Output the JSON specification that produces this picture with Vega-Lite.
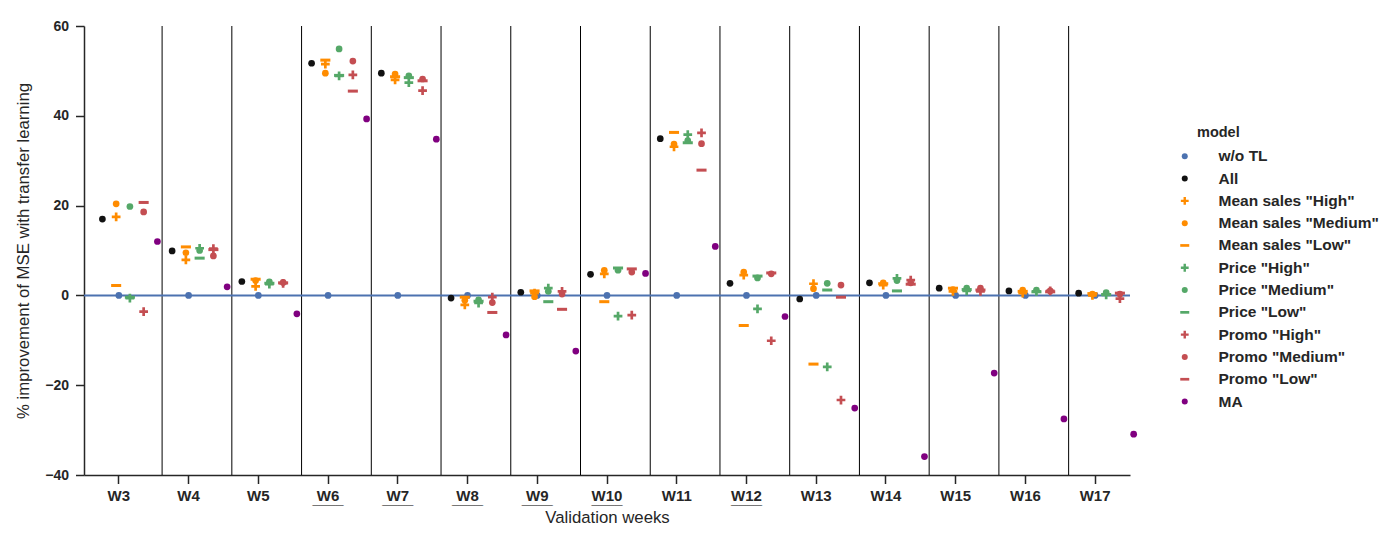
{
  "$schema": "https://vega.github.io/schema/vega-lite/v6.json",
  "width": 1046,
  "height": 449,
  "autosize": "none",
  "padding": {"left": 84, "top": 26, "right": 266, "bottom": 61},
  "background": "white",
  "config": {
    "view": {"stroke": null},
    "font": "Liberation Sans",
    "axis": {
      "grid": false,
      "domainColor": "#262626",
      "domainWidth": 1.5,
      "tickColor": "#262626",
      "tickWidth": 1.5,
      "tickSize": 8.5,
      "labelColor": "#262626",
      "labelFont": "Liberation Sans",
      "labelFontWeight": "bold",
      "titleColor": "#262626",
      "titleFont": "Liberation Sans",
      "titleFontSize": 16.75,
      "titleFontWeight": "normal"
    }
  },
  "datasets": {
    "weeks": [
      {"week": "W3"}, {"week": "W4"}, {"week": "W5"}, {"week": "W6"}, {"week": "W7"},
      {"week": "W8"}, {"week": "W9"}, {"week": "W10"}, {"week": "W11"}, {"week": "W12"},
      {"week": "W13"}, {"week": "W14"}, {"week": "W15"}, {"week": "W16"}
    ],
    "highlighted": [
      {"week": "W6"}, {"week": "W7"}, {"week": "W8"}, {"week": "W9"}, {"week": "W10"}, {"week": "W12"}
    ],
    "scores": [
      {"week": "W3", "model": "w/o TL", "feature": "none", "value": 0},
      {"week": "W3", "model": "All", "feature": "All", "value": 17.0},
      {"week": "W3", "model": "Mean sales \"High\"", "feature": "Mean sales", "value": 17.5},
      {"week": "W3", "model": "Mean sales \"Medium\"", "feature": "Mean sales", "value": 20.4},
      {"week": "W3", "model": "Mean sales \"Low\"", "feature": "Mean sales", "value": 2.2},
      {"week": "W3", "model": "Price \"High\"", "feature": "Price", "value": -0.6},
      {"week": "W3", "model": "Price \"Medium\"", "feature": "Price", "value": 19.8},
      {"week": "W3", "model": "Price \"Low\"", "feature": "Price", "value": -0.4},
      {"week": "W3", "model": "Promo \"High\"", "feature": "Promo", "value": -3.6},
      {"week": "W3", "model": "Promo \"Medium\"", "feature": "Promo", "value": 18.6},
      {"week": "W3", "model": "Promo \"Low\"", "feature": "Promo", "value": 20.7},
      {"week": "W3", "model": "MA", "feature": "MA", "value": 12.0},

      {"week": "W4", "model": "w/o TL", "feature": "none", "value": 0},
      {"week": "W4", "model": "All", "feature": "All", "value": 9.9},
      {"week": "W4", "model": "Mean sales \"High\"", "feature": "Mean sales", "value": 7.9},
      {"week": "W4", "model": "Mean sales \"Medium\"", "feature": "Mean sales", "value": 9.5},
      {"week": "W4", "model": "Mean sales \"Low\"", "feature": "Mean sales", "value": 10.8},
      {"week": "W4", "model": "Price \"High\"", "feature": "Price", "value": 10.5},
      {"week": "W4", "model": "Price \"Medium\"", "feature": "Price", "value": 10.0},
      {"week": "W4", "model": "Price \"Low\"", "feature": "Price", "value": 8.3},
      {"week": "W4", "model": "Promo \"High\"", "feature": "Promo", "value": 10.4},
      {"week": "W4", "model": "Promo \"Medium\"", "feature": "Promo", "value": 8.8},
      {"week": "W4", "model": "Promo \"Low\"", "feature": "Promo", "value": 10.2},
      {"week": "W4", "model": "MA", "feature": "MA", "value": 1.9},

      {"week": "W5", "model": "w/o TL", "feature": "none", "value": 0},
      {"week": "W5", "model": "All", "feature": "All", "value": 3.1},
      {"week": "W5", "model": "Mean sales \"High\"", "feature": "Mean sales", "value": 2.0},
      {"week": "W5", "model": "Mean sales \"Medium\"", "feature": "Mean sales", "value": 3.3},
      {"week": "W5", "model": "Mean sales \"Low\"", "feature": "Mean sales", "value": 3.6},
      {"week": "W5", "model": "Price \"High\"", "feature": "Price", "value": 2.5},
      {"week": "W5", "model": "Price \"Medium\"", "feature": "Price", "value": 3.0},
      {"week": "W5", "model": "Price \"Low\"", "feature": "Price", "value": 2.7},
      {"week": "W5", "model": "Promo \"High\"", "feature": "Promo", "value": 2.7},
      {"week": "W5", "model": "Promo \"Medium\"", "feature": "Promo", "value": 2.9},
      {"week": "W5", "model": "Promo \"Low\"", "feature": "Promo", "value": 2.8},
      {"week": "W5", "model": "MA", "feature": "MA", "value": -4.1},

      {"week": "W6", "model": "w/o TL", "feature": "none", "value": 0},
      {"week": "W6", "model": "All", "feature": "All", "value": 51.7},
      {"week": "W6", "model": "Mean sales \"High\"", "feature": "Mean sales", "value": 51.5},
      {"week": "W6", "model": "Mean sales \"Medium\"", "feature": "Mean sales", "value": 49.5},
      {"week": "W6", "model": "Mean sales \"Low\"", "feature": "Mean sales", "value": 52.4},
      {"week": "W6", "model": "Price \"High\"", "feature": "Price", "value": 48.9},
      {"week": "W6", "model": "Price \"Medium\"", "feature": "Price", "value": 54.9},
      {"week": "W6", "model": "Price \"Low\"", "feature": "Price", "value": 49.0},
      {"week": "W6", "model": "Promo \"High\"", "feature": "Promo", "value": 49.1},
      {"week": "W6", "model": "Promo \"Medium\"", "feature": "Promo", "value": 52.2},
      {"week": "W6", "model": "Promo \"Low\"", "feature": "Promo", "value": 45.5},
      {"week": "W6", "model": "MA", "feature": "MA", "value": 39.3},

      {"week": "W7", "model": "w/o TL", "feature": "none", "value": 0},
      {"week": "W7", "model": "All", "feature": "All", "value": 49.5},
      {"week": "W7", "model": "Mean sales \"High\"", "feature": "Mean sales", "value": 48.0},
      {"week": "W7", "model": "Mean sales \"Medium\"", "feature": "Mean sales", "value": 49.3},
      {"week": "W7", "model": "Mean sales \"Low\"", "feature": "Mean sales", "value": 48.7},
      {"week": "W7", "model": "Price \"High\"", "feature": "Price", "value": 47.4},
      {"week": "W7", "model": "Price \"Medium\"", "feature": "Price", "value": 48.9},
      {"week": "W7", "model": "Price \"Low\"", "feature": "Price", "value": 48.5},
      {"week": "W7", "model": "Promo \"High\"", "feature": "Promo", "value": 45.6},
      {"week": "W7", "model": "Promo \"Medium\"", "feature": "Promo", "value": 48.2},
      {"week": "W7", "model": "Promo \"Low\"", "feature": "Promo", "value": 47.8},
      {"week": "W7", "model": "MA", "feature": "MA", "value": 34.8},

      {"week": "W8", "model": "w/o TL", "feature": "none", "value": 0},
      {"week": "W8", "model": "All", "feature": "All", "value": -0.6},
      {"week": "W8", "model": "Mean sales \"High\"", "feature": "Mean sales", "value": -2.1},
      {"week": "W8", "model": "Mean sales \"Medium\"", "feature": "Mean sales", "value": -1.1},
      {"week": "W8", "model": "Mean sales \"Low\"", "feature": "Mean sales", "value": -0.4},
      {"week": "W8", "model": "Price \"High\"", "feature": "Price", "value": -1.7},
      {"week": "W8", "model": "Price \"Medium\"", "feature": "Price", "value": -1.0},
      {"week": "W8", "model": "Price \"Low\"", "feature": "Price", "value": -1.3},
      {"week": "W8", "model": "Promo \"High\"", "feature": "Promo", "value": -0.4},
      {"week": "W8", "model": "Promo \"Medium\"", "feature": "Promo", "value": -1.6},
      {"week": "W8", "model": "Promo \"Low\"", "feature": "Promo", "value": -3.8},
      {"week": "W8", "model": "MA", "feature": "MA", "value": -8.8},

      {"week": "W9", "model": "w/o TL", "feature": "none", "value": 0},
      {"week": "W9", "model": "All", "feature": "All", "value": 0.7},
      {"week": "W9", "model": "Mean sales \"High\"", "feature": "Mean sales", "value": 0.5},
      {"week": "W9", "model": "Mean sales \"Medium\"", "feature": "Mean sales", "value": -0.3},
      {"week": "W9", "model": "Mean sales \"Low\"", "feature": "Mean sales", "value": 1.0},
      {"week": "W9", "model": "Price \"High\"", "feature": "Price", "value": 1.6},
      {"week": "W9", "model": "Price \"Medium\"", "feature": "Price", "value": 0.9},
      {"week": "W9", "model": "Price \"Low\"", "feature": "Price", "value": -1.4},
      {"week": "W9", "model": "Promo \"High\"", "feature": "Promo", "value": 0.9},
      {"week": "W9", "model": "Promo \"Medium\"", "feature": "Promo", "value": 0.3},
      {"week": "W9", "model": "Promo \"Low\"", "feature": "Promo", "value": -3.1},
      {"week": "W9", "model": "MA", "feature": "MA", "value": -12.4},

      {"week": "W10", "model": "w/o TL", "feature": "none", "value": 0},
      {"week": "W10", "model": "All", "feature": "All", "value": 4.7},
      {"week": "W10", "model": "Mean sales \"High\"", "feature": "Mean sales", "value": 4.8},
      {"week": "W10", "model": "Mean sales \"Medium\"", "feature": "Mean sales", "value": 5.6},
      {"week": "W10", "model": "Mean sales \"Low\"", "feature": "Mean sales", "value": -1.4},
      {"week": "W10", "model": "Price \"High\"", "feature": "Price", "value": -4.6},
      {"week": "W10", "model": "Price \"Medium\"", "feature": "Price", "value": 5.6},
      {"week": "W10", "model": "Price \"Low\"", "feature": "Price", "value": 6.1},
      {"week": "W10", "model": "Promo \"High\"", "feature": "Promo", "value": -4.4},
      {"week": "W10", "model": "Promo \"Medium\"", "feature": "Promo", "value": 5.2},
      {"week": "W10", "model": "Promo \"Low\"", "feature": "Promo", "value": 5.9},
      {"week": "W10", "model": "MA", "feature": "MA", "value": 4.9},

      {"week": "W11", "model": "w/o TL", "feature": "none", "value": 0},
      {"week": "W11", "model": "All", "feature": "All", "value": 34.9},
      {"week": "W11", "model": "Mean sales \"High\"", "feature": "Mean sales", "value": 33.1},
      {"week": "W11", "model": "Mean sales \"Medium\"", "feature": "Mean sales", "value": 33.7},
      {"week": "W11", "model": "Mean sales \"Low\"", "feature": "Mean sales", "value": 36.3},
      {"week": "W11", "model": "Price \"High\"", "feature": "Price", "value": 35.8},
      {"week": "W11", "model": "Price \"Medium\"", "feature": "Price", "value": 34.5},
      {"week": "W11", "model": "Price \"Low\"", "feature": "Price", "value": 34.0},
      {"week": "W11", "model": "Promo \"High\"", "feature": "Promo", "value": 36.2},
      {"week": "W11", "model": "Promo \"Medium\"", "feature": "Promo", "value": 33.8},
      {"week": "W11", "model": "Promo \"Low\"", "feature": "Promo", "value": 27.9},
      {"week": "W11", "model": "MA", "feature": "MA", "value": 10.9},

      {"week": "W12", "model": "w/o TL", "feature": "none", "value": 0},
      {"week": "W12", "model": "All", "feature": "All", "value": 2.7},
      {"week": "W12", "model": "Mean sales \"High\"", "feature": "Mean sales", "value": 4.5},
      {"week": "W12", "model": "Mean sales \"Medium\"", "feature": "Mean sales", "value": 5.2},
      {"week": "W12", "model": "Mean sales \"Low\"", "feature": "Mean sales", "value": -6.7},
      {"week": "W12", "model": "Price \"High\"", "feature": "Price", "value": -3.0},
      {"week": "W12", "model": "Price \"Medium\"", "feature": "Price", "value": 3.9},
      {"week": "W12", "model": "Price \"Low\"", "feature": "Price", "value": 4.3},
      {"week": "W12", "model": "Promo \"High\"", "feature": "Promo", "value": -10.1},
      {"week": "W12", "model": "Promo \"Medium\"", "feature": "Promo", "value": 4.8},
      {"week": "W12", "model": "Promo \"Low\"", "feature": "Promo", "value": 5.0},
      {"week": "W12", "model": "MA", "feature": "MA", "value": -4.7},

      {"week": "W13", "model": "w/o TL", "feature": "none", "value": 0},
      {"week": "W13", "model": "All", "feature": "All", "value": -0.8},
      {"week": "W13", "model": "Mean sales \"High\"", "feature": "Mean sales", "value": 2.6},
      {"week": "W13", "model": "Mean sales \"Medium\"", "feature": "Mean sales", "value": 1.5},
      {"week": "W13", "model": "Mean sales \"Low\"", "feature": "Mean sales", "value": -15.3},
      {"week": "W13", "model": "Price \"High\"", "feature": "Price", "value": -15.9},
      {"week": "W13", "model": "Price \"Medium\"", "feature": "Price", "value": 2.7},
      {"week": "W13", "model": "Price \"Low\"", "feature": "Price", "value": 1.2},
      {"week": "W13", "model": "Promo \"High\"", "feature": "Promo", "value": -23.3},
      {"week": "W13", "model": "Promo \"Medium\"", "feature": "Promo", "value": 2.3},
      {"week": "W13", "model": "Promo \"Low\"", "feature": "Promo", "value": -0.4},
      {"week": "W13", "model": "MA", "feature": "MA", "value": -25.1},

      {"week": "W14", "model": "w/o TL", "feature": "none", "value": 0},
      {"week": "W14", "model": "All", "feature": "All", "value": 2.8},
      {"week": "W14", "model": "Mean sales \"High\"", "feature": "Mean sales", "value": 2.3},
      {"week": "W14", "model": "Mean sales \"Medium\"", "feature": "Mean sales", "value": 2.8},
      {"week": "W14", "model": "Mean sales \"Low\"", "feature": "Mean sales", "value": 2.6},
      {"week": "W14", "model": "Price \"High\"", "feature": "Price", "value": 3.8},
      {"week": "W14", "model": "Price \"Medium\"", "feature": "Price", "value": 3.3},
      {"week": "W14", "model": "Price \"Low\"", "feature": "Price", "value": 1.0},
      {"week": "W14", "model": "Promo \"High\"", "feature": "Promo", "value": 3.4},
      {"week": "W14", "model": "Promo \"Medium\"", "feature": "Promo", "value": 2.8},
      {"week": "W14", "model": "Promo \"Low\"", "feature": "Promo", "value": 2.5},
      {"week": "W14", "model": "MA", "feature": "MA", "value": -35.9},

      {"week": "W15", "model": "w/o TL", "feature": "none", "value": 0},
      {"week": "W15", "model": "All", "feature": "All", "value": 1.6},
      {"week": "W15", "model": "Mean sales \"High\"", "feature": "Mean sales", "value": 0.9},
      {"week": "W15", "model": "Mean sales \"Medium\"", "feature": "Mean sales", "value": 1.3},
      {"week": "W15", "model": "Mean sales \"Low\"", "feature": "Mean sales", "value": 1.6},
      {"week": "W15", "model": "Price \"High\"", "feature": "Price", "value": 1.0},
      {"week": "W15", "model": "Price \"Medium\"", "feature": "Price", "value": 1.6},
      {"week": "W15", "model": "Price \"Low\"", "feature": "Price", "value": 1.3},
      {"week": "W15", "model": "Promo \"High\"", "feature": "Promo", "value": 0.9},
      {"week": "W15", "model": "Promo \"Medium\"", "feature": "Promo", "value": 1.6},
      {"week": "W15", "model": "Promo \"Low\"", "feature": "Promo", "value": 1.2},
      {"week": "W15", "model": "MA", "feature": "MA", "value": -17.3},

      {"week": "W16", "model": "w/o TL", "feature": "none", "value": 0},
      {"week": "W16", "model": "All", "feature": "All", "value": 1.0},
      {"week": "W16", "model": "Mean sales \"High\"", "feature": "Mean sales", "value": 0.5},
      {"week": "W16", "model": "Mean sales \"Medium\"", "feature": "Mean sales", "value": 1.2},
      {"week": "W16", "model": "Mean sales \"Low\"", "feature": "Mean sales", "value": 0.9},
      {"week": "W16", "model": "Price \"High\"", "feature": "Price", "value": 0.9},
      {"week": "W16", "model": "Price \"Medium\"", "feature": "Price", "value": 1.2},
      {"week": "W16", "model": "Price \"Low\"", "feature": "Price", "value": 0.8},
      {"week": "W16", "model": "Promo \"High\"", "feature": "Promo", "value": 1.0},
      {"week": "W16", "model": "Promo \"Medium\"", "feature": "Promo", "value": 1.0},
      {"week": "W16", "model": "Promo \"Low\"", "feature": "Promo", "value": 0.8},
      {"week": "W16", "model": "MA", "feature": "MA", "value": -27.5},

      {"week": "W17", "model": "w/o TL", "feature": "none", "value": 0},
      {"week": "W17", "model": "All", "feature": "All", "value": 0.5},
      {"week": "W17", "model": "Mean sales \"High\"", "feature": "Mean sales", "value": 0.0},
      {"week": "W17", "model": "Mean sales \"Medium\"", "feature": "Mean sales", "value": 0.3},
      {"week": "W17", "model": "Mean sales \"Low\"", "feature": "Mean sales", "value": 0.4},
      {"week": "W17", "model": "Price \"High\"", "feature": "Price", "value": 0.1},
      {"week": "W17", "model": "Price \"Medium\"", "feature": "Price", "value": 0.6},
      {"week": "W17", "model": "Price \"Low\"", "feature": "Price", "value": 0.2},
      {"week": "W17", "model": "Promo \"High\"", "feature": "Promo", "value": -0.7},
      {"week": "W17", "model": "Promo \"Medium\"", "feature": "Promo", "value": 0.3},
      {"week": "W17", "model": "Promo \"Low\"", "feature": "Promo", "value": 0.5},
      {"week": "W17", "model": "MA", "feature": "MA", "value": -30.9}
    ]
  },
  "layer": [
    {
      "data": {"name": "weeks"},
      "mark": {"type": "rule", "color": "#000000", "strokeWidth": 1},
      "encoding": {
        "x": {
          "field": "week", "type": "ordinal", "bandPosition": 1.12,
          "scale": {"type": "band", "paddingInner": 0, "paddingOuter": 0,
            "domain": ["W3","W4","W5","W6","W7","W8","W9","W10","W11","W12","W13","W14","W15","W16","W17"]}
        }
      }
    },
    {
      "data": {"values": [{}]},
      "mark": {"type": "rule", "color": "#4c72b0", "strokeWidth": 2},
      "encoding": {"y": {"datum": 0}}
    },
    {
      "data": {"name": "highlighted"},
      "mark": {"type": "text", "text": "____", "font": "Liberation Sans", "fontSize": 14, "fontWeight": "bold", "color": "#000000", "baseline": "alphabetic", "align": "center", "dy": 29},
      "encoding": {
        "x": {
          "field": "week", "type": "ordinal",
          "scale": {"type": "band", "paddingInner": 0, "paddingOuter": 0,
            "domain": ["W3","W4","W5","W6","W7","W8","W9","W10","W11","W12","W13","W14","W15","W16","W17"]}
        },
        "y": {"datum": -40}
      }
    },
    {
      "data": {"name": "scores"},
      "transform": [{"filter": "datum.model === 'w/o TL'"}],
      "mark": {"type": "point", "filled": true, "opacity": 1, "size": 45},
      "encoding": {
        "x": {
          "field": "week", "type": "ordinal",
          "scale": {"type": "band", "paddingInner": 0, "paddingOuter": 0,
            "domain": ["W3","W4","W5","W6","W7","W8","W9","W10","W11","W12","W13","W14","W15","W16","W17"]},
          "axis": {
            "title": "Validation weeks",
            "labelAngle": 0,
            "labelAlign": "center",
            "bandPosition": 0.5,
            "labelFontSize": 15,
            "labelPadding": 12,
            "titlePadding": 6
          }
        },
        "y": {
          "field": "value", "type": "quantitative",
          "scale": {"domain": [-40, 60], "nice": false, "zero": false},
          "axis": {
            "title": "% improvement of MSE with transfer learning",
            "values": [-40, -20, 0, 20, 40, 60],
            "labelFontSize": 14,
            "labelPadding": 7,
            "titlePadding": 12
          }
        },
        "color": {
          "field": "model", "type": "nominal",
          "scale": {
            "domain": ["w/o TL", "All", "Mean sales \"High\"", "Mean sales \"Medium\"", "Mean sales \"Low\"", "Price \"High\"", "Price \"Medium\"", "Price \"Low\"", "Promo \"High\"", "Promo \"Medium\"", "Promo \"Low\"", "MA"],
            "range": ["#4c72b0", "#111111", "#ff8c00", "#ff8c00", "#ff8c00", "#55a868", "#55a868", "#55a868", "#c44e52", "#c44e52", "#c44e52", "#800080"]
          },
          "legend": {
            "title": "model",
            "orient": "none",
            "legendX": 1113,
            "legendY": 100,
            "symbolOffset": -20,
            "titleFontSize": 14.5,
            "titleFontWeight": "bold",
            "titleColor": "#262626",
            "titlePadding": 8,
            "labelFontSize": 15.5,
            "labelFontWeight": "bold",
            "labelColor": "#262626",
            "labelLimit": 300,
            "labelOffset": 26,
            "symbolSize": 36,
            "rowPadding": 5.3,
            "padding": 0
          }
        },
        "shape": {
          "field": "model", "type": "nominal",
          "scale": {
            "domain": ["w/o TL", "All", "Mean sales \"High\"", "Mean sales \"Medium\"", "Mean sales \"Low\"", "Price \"High\"", "Price \"Medium\"", "Price \"Low\"", "Promo \"High\"", "Promo \"Medium\"", "Promo \"Low\"", "MA"],
            "range": [
              "circle", "circle",
              "M-0.4,-1.3H0.4V-0.4H1.3V0.4H0.4V1.3H-0.4V0.4H-1.3V-0.4H-0.4Z", "circle", "M-1.5,-0.45H1.5V0.45H-1.5Z",
              "M-0.4,-1.3H0.4V-0.4H1.3V0.4H0.4V1.3H-0.4V0.4H-1.3V-0.4H-0.4Z", "circle", "M-1.5,-0.45H1.5V0.45H-1.5Z",
              "M-0.4,-1.3H0.4V-0.4H1.3V0.4H0.4V1.3H-0.4V0.4H-1.3V-0.4H-0.4Z", "circle", "M-1.5,-0.45H1.5V0.45H-1.5Z",
              "circle"
            ]
          }
        }
      }
    },
    {
      "data": {"name": "scores"},
      "transform": [{"filter": "datum.model !== 'w/o TL'"}],
      "mark": {"type": "point", "filled": true, "opacity": 1, "size": 45},
      "encoding": {
        "x": {
          "field": "week", "type": "ordinal",
          "scale": {"type": "band", "paddingInner": 0, "paddingOuter": 0,
            "domain": ["W3","W4","W5","W6","W7","W8","W9","W10","W11","W12","W13","W14","W15","W16","W17"]}
        },
        "xOffset": {
          "field": "feature", "type": "nominal",
          "scale": {"domain": ["All", "Mean sales", "Price", "Promo", "MA"], "range": [18.4, 73.4], "paddingInner": 0, "paddingOuter": 0}
        },
        "y": {"field": "value", "type": "quantitative"},
        "color": {"field": "model", "type": "nominal"},
        "shape": {"field": "model", "type": "nominal"}
      }
    }
  ]
}
